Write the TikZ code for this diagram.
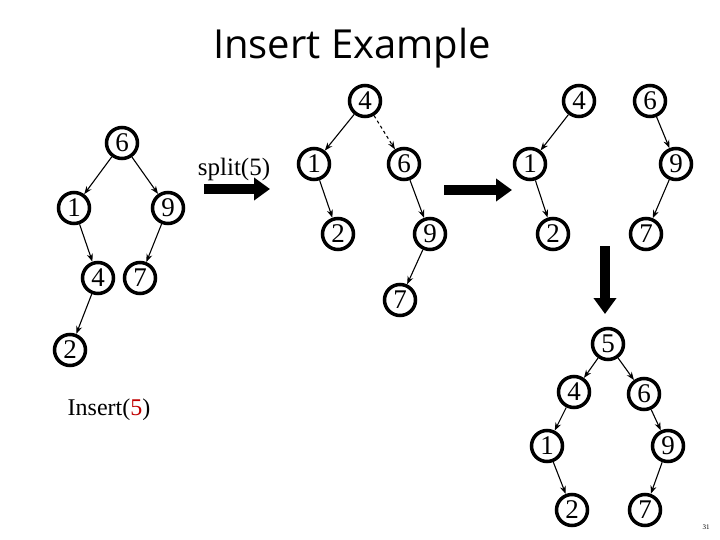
\documentclass[tikz,border=0pt]{standalone}
\usepackage{fontspec}
\setmainfont{Liberation Serif}
\newfontfamily\titlefont{Open Sans}
\usetikzlibrary{arrows.meta}
\definecolor{insred}{RGB}{192, 0, 0}
\tikzset{
  key/.style={circle, draw, line width=3.5pt, fill=white, minimum size=31pt, inner sep=0pt, font=\fontsize{27}{27}\selectfont},
  link/.style={-{Stealth[length=8pt,width=6pt]}, line width=1.1pt},
  bigarrow/.style={line width=10pt, -{Triangle[length=16pt,width=22pt]}}
}
\begin{document}
\begin{tikzpicture}[x=1pt,y=-1pt]
\useasboundingbox (0,0) rectangle (720,540);
% title
\node (title) at (352,48) {\titlefont\fontsize{40}{40}\selectfont Insert Example};

% original tree
\node[key] (a6) at (122,143) {6};
\node[key] (a1) at (74,208) {1};
\node[key] (a9) at (168,208) {9};
\node[key] (a4) at (98,278) {4};
\node[key] (a7) at (140,278) {7};
\node[key] (a2) at (70,350) {2};
\draw[link] (a6) -- (a1);
\draw[link] (a6) -- (a9);
\draw[link] (a1) -- (a4);
\draw[link] (a9) -- (a7);
\draw[link] (a4) -- (a2);

% split arrow
\coordinate (s0) at (204,189);
\coordinate (s1) at (270,189);
\draw[bigarrow] (s0) -- (s1);
\node (splitlbl) at (234,169) {\fontsize{25}{25}\selectfont split(5)};

% tree during split
\node[key] (b4) at (365,101) {4};
\node[key] (b1) at (314,164) {1};
\node[key] (b6) at (404,164) {6};
\node[key] (b2) at (338,234) {2};
\node[key] (b9) at (430,234) {9};
\node[key] (b7) at (400,300) {7};
\draw[link] (b4) -- (b1);
\draw[link, dashed] (b4) -- (b6);
\draw[link] (b1) -- (b2);
\draw[link] (b6) -- (b9);
\draw[link] (b9) -- (b7);

\coordinate (m0) at (444,190);
\coordinate (m1) at (512,190);
\draw[bigarrow] (m0) -- (m1);

% two trees after split
\node[key] (c4) at (579,101) {4};
\node[key] (c1) at (530,164) {1};
\node[key] (c2) at (553,234) {2};
\node[key] (c6) at (650,101) {6};
\node[key] (c9) at (676,164) {9};
\node[key] (c7) at (646,234) {7};
\draw[link] (c4) -- (c1);
\draw[link] (c1) -- (c2);
\draw[link] (c6) -- (c9);
\draw[link] (c9) -- (c7);

\coordinate (d0) at (605,246);
\coordinate (d1) at (605,314);
\draw[bigarrow] (d0) -- (d1);

% result
\node[key] (e5) at (608,344) {5};
\node[key] (e4) at (574,392) {4};
\node[key] (e6) at (644,394) {6};
\node[key] (e1) at (547,446) {1};
\node[key] (e9) at (668,446) {9};
\node[key] (e2) at (572,510) {2};
\node[key] (e7) at (645,510) {7};
\draw[link] (e5) -- (e4);
\draw[link] (e5) -- (e6);
\draw[link] (e4) -- (e1);
\draw[link] (e6) -- (e9);
\draw[link] (e1) -- (e2);
\draw[link] (e9) -- (e7);

\node (inslbl) at (109,410) {\fontsize{24}{24}\selectfont Insert(\textcolor{insred}{5})};
\node (pagenum) at (706,527) {\fontsize{7}{7}\selectfont 31};
\end{tikzpicture}
\end{document}
